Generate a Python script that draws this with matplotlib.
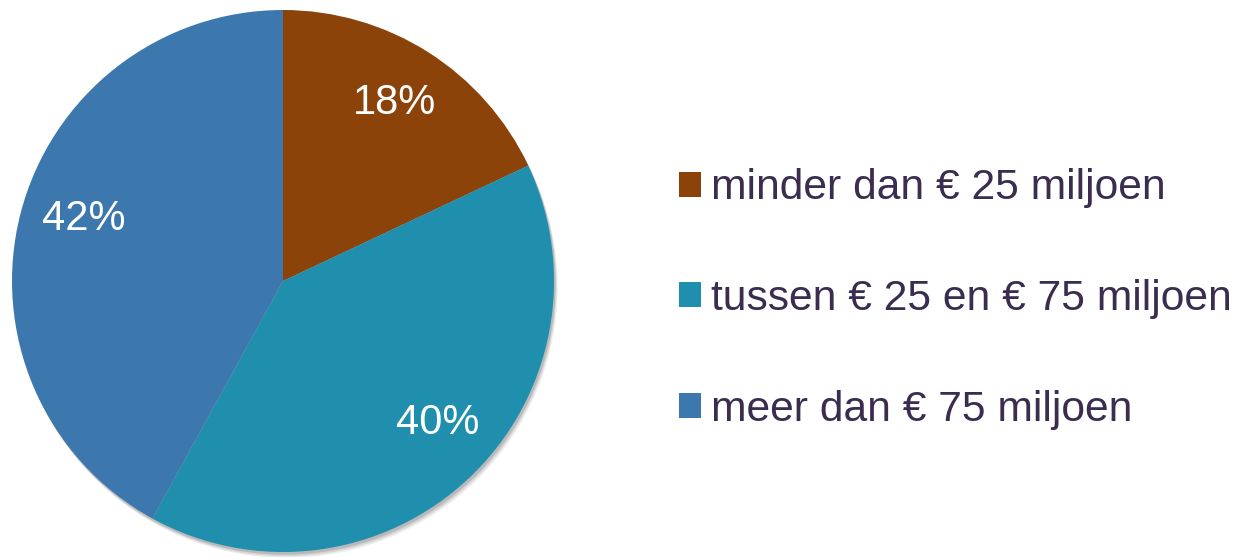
import matplotlib
matplotlib.use("Agg")
import matplotlib.pyplot as plt
from matplotlib.patches import Circle, Patch
from matplotlib.transforms import offset_copy

# Dados do gráfico
categorias = ["minder dan € 25 miljoen", "tussen € 25 en € 75 miljoen", "meer dan € 75 miljoen"]
percentagens = [18, 40, 42]
cores = ["#8B4309", "#1F8FAD", "#3C78AE"]
COR_TEXTO = "#3B2D4F"

plt.rcParams['font.family'] = ['Liberation Sans', 'DejaVu Sans']

W, H = 1239, 557
fig = plt.figure(figsize=(W / 100, H / 100), dpi=100)

# Eixo do gráfico de pizza: centro (283, 281) px, raio 271 px
CX, CY, R = 283, 281, 271
LIM = 1.03
lado = 2 * R * LIM
ax = fig.add_axes([(CX - lado / 2) / W, (H - CY - lado / 2) / H, lado / W, lado / H])
ax.set_aspect('equal')
ax.axis('off')

# Sombra suave (canto inferior direito)
for d, a in [(0.022, 0.10), (0.016, 0.15), (0.010, 0.22)]:
    ax.add_patch(Circle((d * 0.6, -d), 1.0, color='#555555', alpha=a, lw=0, zorder=0))

wedges, textos, autotextos = ax.pie(
    percentagens, colors=cores, startangle=90, counterclock=False,
    radius=1.0, autopct='%1.0f%%', pctdistance=0.77,
    wedgeprops=dict(linewidth=0),
    textprops=dict(color='white', fontsize=30),
)
for w in wedges:
    w.set_zorder(2)

# Pequenos ajustes de posição dos rótulos (em pixels)
ajustes = [(0, 2), (12, 10), (3, 10)]
for t, (dx, dy) in zip(autotextos, ajustes):
    t.set_zorder(3)
    t.set_transform(offset_copy(t.get_transform(), fig=fig, x=dx, y=dy, units='dots'))

ax.set_xlim(-LIM, LIM)
ax.set_ylim(-LIM, LIM)

# Legenda
handles = [Patch(facecolor=c, edgecolor='none') for c in cores]
leg = fig.legend(
    handles, categorias, loc='center left',
    bbox_to_anchor=(679 / W, (H - 299) / H),
    frameon=False, fontsize=30.7, labelspacing=1.66,
    handlelength=0.52, handleheight=0.52, handletextpad=0.23,
    borderpad=0, borderaxespad=0,
)
for t in leg.get_texts():
    t.set_color(COR_TEXTO)

fig.savefig('out.png', dpi=100)
